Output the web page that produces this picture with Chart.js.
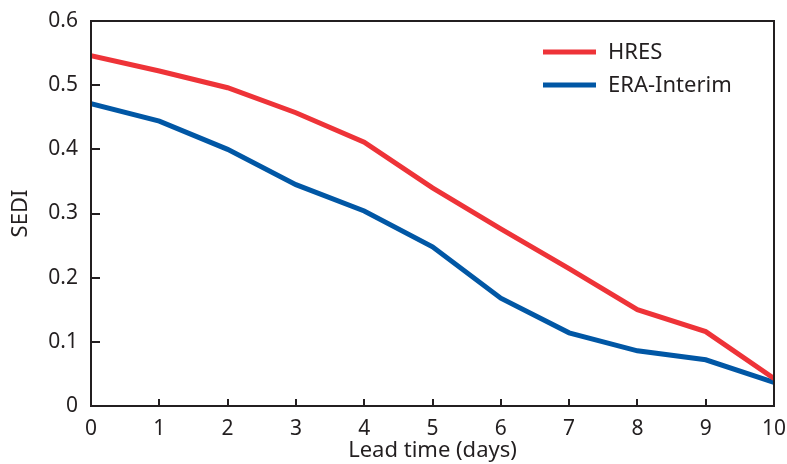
<!DOCTYPE html>
<html>
<head>
<meta charset="utf-8">
<script src="https://cdn.jsdelivr.net/npm/chart.js@4/dist/chart.umd.min.js"></script>
<style>
  html, body { margin: 0; padding: 0; background: #fff; }
  #wrap { width: 787px; height: 464px; }
</style>
</head>
<body>
<div id="wrap"><canvas id="sediChart" width="787" height="464"></canvas></div>
<script>
// Lead time axis (days)
const leadTimes = [0, 1, 2, 3, 4, 5, 6, 7, 8, 9, 10];
const yTickValues = [0, 0.1, 0.2, 0.3, 0.4, 0.5, 0.6];
const xTickValues = [0, 1, 2, 3, 4, 5, 6, 7, 8, 9, 10];

// SEDI scores
const hresValues = [0.546, 0.522, 0.496, 0.457, 0.411, 0.340, 0.276, 0.214, 0.150, 0.116, 0.043];
const eraValues = [0.471, 0.444, 0.400, 0.345, 0.304, 0.248, 0.168, 0.114, 0.086, 0.072, 0.037];

const INK = '#231f20';
const FONT = '"Noto Sans", sans-serif';

const toPoints = vals => vals.map((v, i) => ({ x: leadTimes[i], y: v }));

// Frame round the plot + inward tick marks
const frameTicks = {
    id: 'frameTicks',
    afterDraw(chart) {
        const { ctx, chartArea: a, scales } = chart;
        ctx.save();
        ctx.strokeStyle = INK;
        ctx.lineWidth = 2;
        ctx.strokeRect(a.left, a.top, a.right - a.left, a.bottom - a.top);
        ctx.beginPath();
        yTickValues.slice(1, -1).forEach(v => {
            const y = Math.round(scales.y.getPixelForValue(v));
            ctx.moveTo(a.left, y);
            ctx.lineTo(a.left + 9, y);
        });
        xTickValues.slice(1, -1).forEach(v => {
            const x = Math.round(scales.x.getPixelForValue(v));
            ctx.moveTo(x, a.bottom);
            ctx.lineTo(x, a.bottom - 7);
        });
        ctx.stroke();
        ctx.restore();
    }
};

// Legend drawn inside the plot, top right
const innerLegend = {
    id: 'innerLegend',
    afterDatasetsDraw(chart) {
        const { ctx } = chart;
        ctx.save();
        ctx.font = '22px ' + FONT;
        ctx.textBaseline = 'middle';
        chart.data.datasets.forEach((ds, i) => {
            const y = 52 + i * 33;
            ctx.strokeStyle = ds.borderColor;
            ctx.lineWidth = 5;
            ctx.beginPath();
            ctx.moveTo(543, y);
            ctx.lineTo(596, y);
            ctx.stroke();
            ctx.fillStyle = INK;
            ctx.fillText(ds.label, 608, y + 1);
        });
        ctx.restore();
    }
};

new Chart(document.getElementById('sediChart'), {
    type: 'line',
    data: {
        datasets: [
            {
                label: 'HRES',
                data: toPoints(hresValues),
                borderColor: '#ee3338',
                borderWidth: 5,
                pointRadius: 0,
                tension: 0
            },
            {
                label: 'ERA-Interim',
                data: toPoints(eraValues),
                borderColor: '#0157a5',
                borderWidth: 5,
                pointRadius: 0,
                tension: 0
            }
        ]
    },
    options: {
        responsive: false,
        animation: false,
        layout: { padding: { top: 21, right: 13, left: 0, bottom: 0 } },
        plugins: {
            legend: { display: false },
            tooltip: { enabled: false }
        },
        scales: {
            x: {
                type: 'linear',
                min: 0,
                max: 10,
                afterBuildTicks: s => { s.ticks = xTickValues.map(v => ({ value: v })); },
                afterFit: s => { s.height = 58; s.paddingRight = 0; s.paddingLeft = 0; },
                grid: { display: false, drawTicks: false },
                border: { display: false },
                ticks: {
                    color: INK,
                    font: { family: FONT, size: 21 },
                    padding: 10,
                    maxRotation: 0
                },
                title: {
                    display: true,
                    text: 'Lead time (days)',
                    color: INK,
                    font: { family: FONT, size: 22 },
                    padding: { top: -4, bottom: 0 }
                }
            },
            y: {
                min: 0,
                max: 0.6,
                afterBuildTicks: s => { s.ticks = yTickValues.map(v => ({ value: v })); },
                afterFit: s => { s.width = 91; s.paddingTop = 0; s.paddingBottom = 0; },
                grid: { display: false, drawTicks: false },
                border: { display: false },
                ticks: {
                    color: INK,
                    font: { family: FONT, size: 21 },
                    padding: 13,
                    callback: v => (v === 0 ? '0' : v.toFixed(1))
                },
                title: {
                    display: true,
                    text: 'SEDI',
                    color: INK,
                    font: { family: FONT, size: 22 },
                    padding: { top: 8, bottom: 0 }
                }
            }
        }
    },
    plugins: [frameTicks, innerLegend]
});
</script>
</body>
</html>
